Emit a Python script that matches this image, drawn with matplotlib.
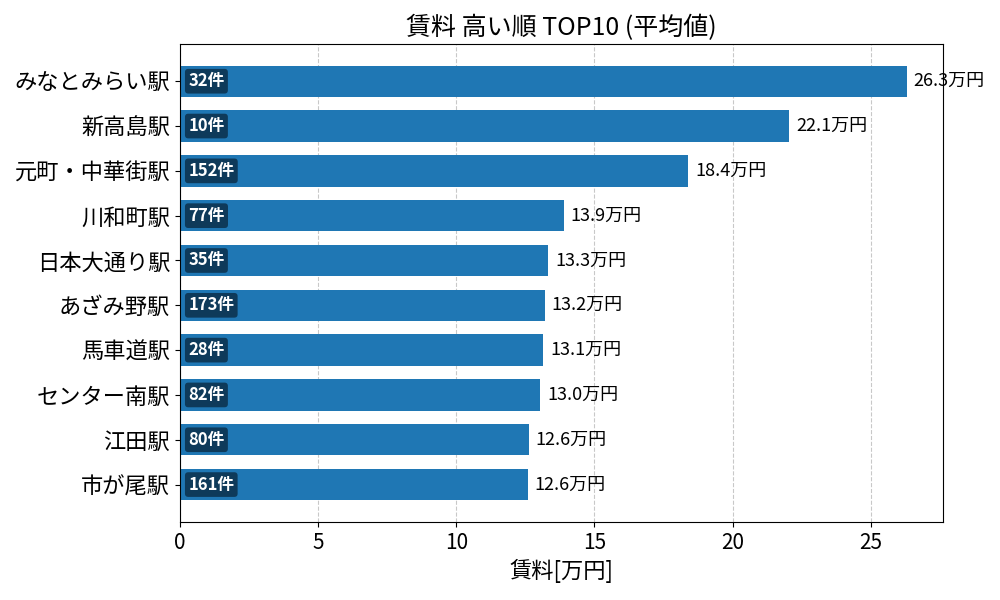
import matplotlib
matplotlib.use("Agg")
import matplotlib.pyplot as plt

plt.rcParams['font.family'] = ['Noto Sans CJK JP', 'DejaVu Sans']

stations = ["みなとみらい駅", "新高島駅", "元町・中華街駅", "川和町駅", "日本大通り駅",
            "あざみ野駅", "馬車道駅", "センター南駅", "江田駅", "市が尾駅"]
rent = [26.3, 22.05, 18.4, 13.88, 13.32, 13.2, 13.14, 13.04, 12.62, 12.58]
counts = [32, 10, 152, 77, 35, 173, 28, 82, 80, 161]

fig, ax = plt.subplots(figsize=(10, 6), dpi=100)
ypos = list(range(len(stations)))
ax.barh(ypos, rent, height=0.7, color='#1f77b4', zorder=2)
ax.set_yticks(ypos)
ax.set_yticklabels(stations, fontsize=16)
ax.invert_yaxis()
ax.tick_params(axis='x', labelsize=15)
ax.set_xlim(0, max(rent) * 1.05)

for y, v, c in zip(ypos, rent, counts):
	ax.text(v + 0.25, y, "%.1f万円" % v, va='center', ha='left', fontsize=13)
	ax.text(0.3, y, "%d件" % c, va='center', ha='left', fontsize=12,
	        color='white', fontweight='bold',
	        bbox=dict(boxstyle='round,pad=0.2', fc='#0e3a5a', ec='none'))

ax.grid(axis='x', linestyle='--', color='#bbbbbb', alpha=0.8, zorder=0)
ax.set_axisbelow(True)
ax.set_xlabel("賃料[万円]", fontsize=16)
ax.set_title("賃料 高い順 TOP10 (平均値)", fontsize=18)

plt.subplots_adjust(left=0.18, right=0.943, top=0.927, bottom=0.13)
plt.savefig("out.png")
